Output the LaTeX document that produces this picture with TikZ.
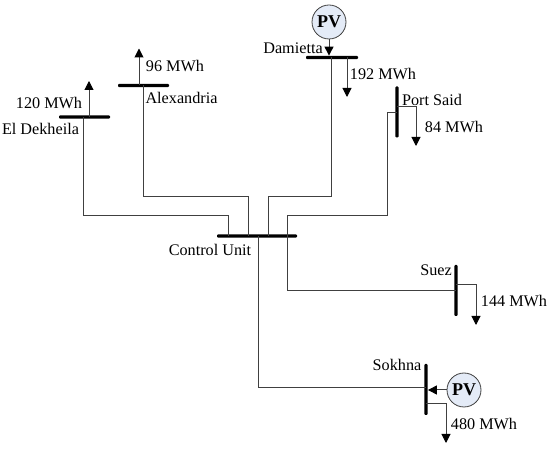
\documentclass[tikz,border=0pt]{standalone}
\usepackage{fontspec}
\setmainfont{Liberation Serif}
\usepackage{tikz}
\usetikzlibrary{arrows.meta,positioning}
\definecolor{linegray}{HTML}{404040}
\definecolor{pvblue}{HTML}{E4EBF7}
\tikzset{
    feeder/.style={draw=linegray, line width=1pt},
    flow/.style={feeder, -{Triangle[length=9pt,width=9pt,color=black]}},
    hbus/.style={fill=black, inner sep=0pt, minimum width=#1, minimum height=3.4pt, rounded corners=1pt},
    vbus/.style={fill=black, inner sep=0pt, minimum height=#1, minimum width=3.4pt, rounded corners=1pt},
    pvnode/.style={circle, draw=linegray, fill=pvblue, line width=0.8pt, minimum size=34pt, inner sep=0pt, font=\fontsize{18}{18}\selectfont\bfseries},
    lbl/.style={inner sep=0pt, font=\fontsize{16.2}{16.2}\selectfont},
}
\begin{document}
\begin{tikzpicture}[x=1pt,y=-1pt]
    \useasboundingbox (0,0) rectangle (550,449);
    % buses
    \node[hbus=80pt] (control) at (257,236) {};
    \node[hbus=51pt] (dekheila) at (84.5,117) {};
    \node[hbus=51pt] (alex) at (143.5,85.5) {};
    \node[hbus=52pt] (damietta) at (332,57.5) {};
    \node[vbus=51pt] (portsaid) at (397,112) {};
    \node[vbus=51pt] (suez) at (456,290.5) {};
    \node[vbus=51pt] (sokhna) at (426,389.5) {};
    % pv sources
    \node[pvnode] (pvA) at (329,22) {PV};
    \node[pvnode] (pvB) at (464,390) {PV};
    % tap points on the control unit bus
    \coordinate (tapA) at (228,236);
    \coordinate (tapB) at (248,236);
    \coordinate (tapC) at (268,236);
    \coordinate (tapD) at (258,236);
    \coordinate (tapE) at (287.5,236);
    % feeders
    \coordinate (feedA) at (83,117);
    \coordinate (feedB) at (143,85.5);
    \coordinate (feedC) at (331,57.5);
    \coordinate (feedD) at (397,113);
    \coordinate (feedE) at (456,291);
    \coordinate (feedF) at (426,388);
    \draw[feeder] (feedA) |- ([yshift=20pt]tapA) -- (tapA);
    \draw[feeder] (feedB) |- ([yshift=39.5pt]tapB) -- (tapB);
    \draw[feeder] (feedC) |- ([yshift=39.5pt]tapC) -- (tapC);
    \draw[feeder] (feedD) -| (387,216) -- ([yshift=20pt]tapE) -- (tapE);
    \draw[feeder] (tapE) |- (feedE);
    \draw[feeder] (tapD) |- (feedF);
    % loads
    \coordinate (endA) at (89,81);
    \coordinate (endB) at (139,48.5);
    \coordinate (endC) at (347,97);
    \coordinate (endD) at (416,146);
    \coordinate (endE) at (476,325);
    \coordinate (endF) at (446,443);
    \draw[flow] (89,117) -- (endA);
    \draw[flow] (139,85.5) -- (endB);
    \draw[flow] (347,57.5) -- (endC);
    \draw[flow] (397,107) -| (endD);
    \draw[flow] (456,285) -| (endE);
    \draw[flow] (426,404) -| (endF);
    % pv infeed
    \draw[flow] (pvA) -- (damietta.north -| pvA);
    \draw[flow] (pvB) -- (sokhna.east |- pvB);
    % labels
    \node[lbl] (lblA) at (49,103) {120 MWh};
    \node[lbl] (lblB) at (40.5,129) {El Dekheila};
    \node[lbl] (lblC) at (175,66) {96 MWh};
    \node[lbl] (lblD) at (181.5,98) {Alexandria};
    \node[lbl] (lblE) at (293,48) {Damietta};
    \node[lbl] (lblF) at (383,74) {192 MWh};
    \node[lbl] (lblG) at (432,99.5) {Port Said};
    \node[lbl] (lblH) at (454,127) {84 MWh};
    \node[lbl] (lblI) at (210,250) {Control Unit};
    \node[lbl] (lblJ) at (436,270) {Suez};
    \node[lbl] (lblK) at (514,301) {144 MWh};
    \node[lbl] (lblL) at (397,365) {Sokhna};
    \node[lbl] (lblM) at (484,424) {480 MWh};
\end{tikzpicture}
\end{document}
